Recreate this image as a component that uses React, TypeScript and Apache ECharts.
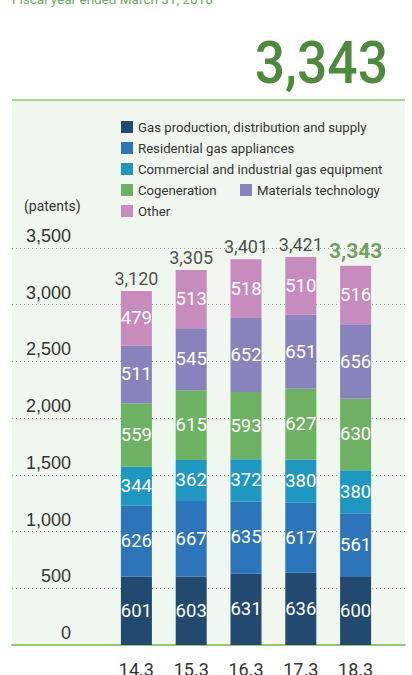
import React, { useEffect, useRef } from "react";
import * as echarts from "echarts";

const categories = ["14.3", "15.3", "16.3", "17.3", "18.3"];
const seriesNames = [
  "Gas production, distribution and supply",
  "Residential gas appliances",
  "Commercial and industrial gas equipment",
  "Cogeneration",
  "Materials technology",
  "Other",
];
const gasProduction = [601, 603, 631, 636, 600];
const residential = [626, 667, 635, 617, 561];
const commercial = [344, 362, 372, 380, 380];
const cogeneration = [559, 615, 593, 627, 630];
const materials = [511, 545, 652, 651, 656];
const other = [479, 513, 518, 510, 516];
const totals = [3120, 3305, 3401, 3421, 3343];
const seriesValues = [gasProduction, residential, commercial, cogeneration, materials, other];
const colors = ["#22496f", "#2d75ba", "#1f97c3", "#6db263", "#8882bd", "#c78bbe"];
const yMin = 0;
const yMax = 3500;
const yInterval = 500;
const headerText = "Fiscal year ended March 31, 2018";
const unitText = "(patents)";

const NARROW = 'Roboto, "Liberation Sans", sans-serif';
const REG = '"Liberation Sans", Arial, sans-serif';
const fmt = (n: number) => n.toLocaleString("en-US");

export default function App() {
  const ref = useRef<HTMLDivElement>(null);
  useEffect(() => {
    document.body.style.margin = "0";
    const chart = echarts.init(ref.current!, null, { renderer: "svg" });
    const last = totals.length - 1;
    const legendText = { fontFamily: NARROW, fontSize: 13.2, color: "#333333", lineHeight: 14 };
    const option: any = {
      animation: false,
      backgroundColor: "#ffffff",
      graphic: [
        { type: "rect", z: -10, shape: { x: 12, y: 101, width: 393, height: 544 }, style: { fill: "#f0f7ee" } },
        { type: "rect", z: 5, shape: { x: 12, y: 99, width: 393, height: 2 }, style: { fill: "#a6d48a" } },
        {
          type: "text", x: 12, y: -1,
          style: { text: headerText, font: `13.5px ${NARROW}`, fill: "#6aab5c", verticalAlign: "middle", align: "left" },
        },
        {
          type: "text", x: 388, y: 62, scaleX: 0.89,
          style: { text: fmt(totals[last]), font: `500 60px ${NARROW}`, fill: "#4e8a3c", verticalAlign: "middle", align: "right" },
        },
        {
          type: "text", x: 24, y: 206,
          style: { text: unitText, font: `14px ${NARROW}`, fill: "#333333", verticalAlign: "middle", align: "left" },
        },
      ],
      legend: [
        {
          left: 121, top: 120, padding: 0, orient: "vertical", itemGap: 7, itemWidth: 12, itemHeight: 12, icon: "rect",
          selectedMode: false,
          textStyle: legendText,
          data: [seriesNames[0], seriesNames[1], seriesNames[2], seriesNames[3], seriesNames[5]],
        },
        {
          left: 240, top: 183, padding: 0, orient: "vertical", itemWidth: 12, itemHeight: 12, icon: "rect",
          selectedMode: false,
          textStyle: legendText,
          data: [seriesNames[4]],
        },
      ],
      grid: [
        { left: 12, right: 7, top: 248, bottom: 30, outerBoundsMode: "none" },
        { left: 109, right: 29, top: 248, bottom: 30, outerBoundsMode: "none" },
      ],
      xAxis: [
        {
          type: "value", gridIndex: 0, min: 0, max: 1,
          axisLine: { show: true, onZero: false, lineStyle: { color: "#92c871", width: 2 } },
          axisTick: { show: false }, axisLabel: { show: false }, splitLine: { show: false },
        },
        {
          type: "category", gridIndex: 1, data: categories,
          axisLine: { show: false }, axisTick: { show: false },
          axisLabel: { fontFamily: NARROW, fontSize: 18, color: "#333333", margin: 15 },
        },
      ],
      yAxis: [
        {
          type: "value", gridIndex: 0, min: yMin, max: yMax, interval: yInterval,
          axisLine: { show: false }, axisTick: { show: false },
          splitLine: { show: true, lineStyle: { color: "#9a9a9a", type: [1, 3], width: 1 } },
          axisLabel: {
            inside: true, margin: 59, align: "right", verticalAlign: "bottom",
            padding: [0, 0, 3, 0], fontFamily: REG, fontSize: 18, color: "#333333",
            formatter: (v: number) => fmt(v),
          },
        },
        { type: "value", gridIndex: 1, min: yMin, max: yMax, interval: yInterval, show: false },
      ],
      series: [
        ...seriesValues.map((vals, i) => ({
          name: seriesNames[i],
          type: "bar",
          stack: "total",
          xAxisIndex: 1,
          yAxisIndex: 1,
          barWidth: 31,
          data: vals,
          itemStyle: { color: colors[i] },
          label: { show: true, position: "inside", color: "#ffffff", fontFamily: NARROW, fontSize: 18.5 },
        })),
        {
          name: "Total",
          type: "scatter",
          xAxisIndex: 1,
          yAxisIndex: 1,
          symbolSize: 1,
          itemStyle: { color: "rgba(0,0,0,0)" },
          label: {
            show: true, position: "top", distance: 3, color: "#222222",
            fontFamily: NARROW, fontSize: 18, formatter: (p: any) => fmt(p.value),
          },
          data: totals.map((t, i) =>
            i === last
              ? { value: t, label: { color: "#4e8a3c", fontWeight: "bold", fontSize: 21, distance: 4 } }
              : { value: t }
          ),
        },
      ],
    };
    chart.setOption(option);
    return () => chart.dispose();
  }, []);
  return <div ref={ref} style={{ width: 412, height: 675 }} />;
}
